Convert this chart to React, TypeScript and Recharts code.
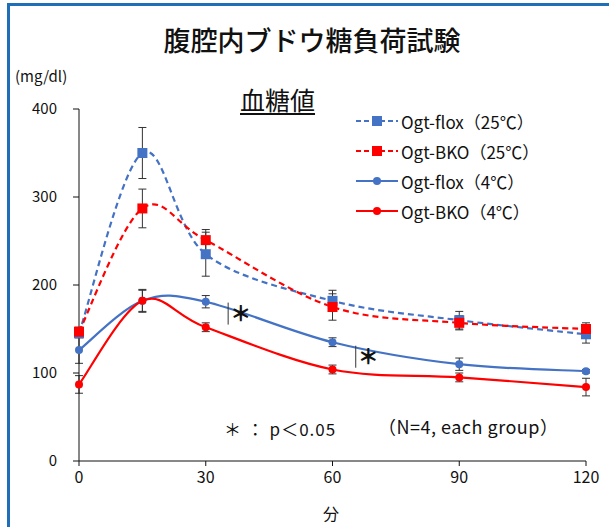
import React from 'react';
import { LineChart, Line, XAxis, YAxis, ErrorBar, ReferenceLine } from 'recharts';

// minutes after glucose injection
const MINUTES = [0, 15, 30, 60, 90, 120];

// blood glucose (mg/dl)
const FLOX_25 = [145, 350, 235, 182, 160, 144];
const BKO_25 = [147, 287, 251, 175, 157, 150];
const FLOX_4 = [126, 182, 181, 135, 110, 102];
const BKO_4 = [87, 182, 152, 104, 95, 84];

// error bars (±)
const FLOX_25_ERR = [5, 29, 25, 12, 10, 10];
const BKO_25_ERR = [5, 22, 12, 15, 8, 7];
const FLOX_4_ERR = [15, 13, 7, 5, 7, 2];
const BKO_4_ERR = [10, 12, 5, 5, 5, 10];

const X_TICKS = [0, 30, 60, 90, 120];
const Y_TICKS = [0, 100, 200, 300, 400];

const BLUE = '#4472C4';
const RED = '#FF0000';
const FONT = '"Noto Sans CJK JP", "Noto Sans", sans-serif';

const SERIES = [
  { key: 'flox25', err: 'flox25Err', name: 'Ogt-flox（25℃）', color: BLUE, dashed: true, square: true },
  { key: 'bko25', err: 'bko25Err', name: 'Ogt-BKO（25℃）', color: RED, dashed: true, square: true },
  { key: 'flox4', err: 'flox4Err', name: 'Ogt-flox（4℃）', color: BLUE, dashed: false, square: false },
  { key: 'bko4', err: 'bko4Err', name: 'Ogt-BKO（4℃）', color: RED, dashed: false, square: false },
];

const data = MINUTES.map((m, i) => ({
  min: m,
  flox25: FLOX_25[i],
  bko25: BKO_25[i],
  flox4: FLOX_4[i],
  bko4: BKO_4[i],
  flox25Err: FLOX_25_ERR[i],
  bko25Err: BKO_25_ERR[i],
  flox4Err: FLOX_4_ERR[i],
  bko4Err: BKO_4_ERR[i],
}));

// Excel-like smoothed line (Catmull-Rom through the points)
const smoothCurve: any = (ctx: any) => {
  let pts: number[][] = [];
  return {
    areaStart() {},
    areaEnd() {},
    lineStart() { pts = []; },
    point(x: number, y: number) { pts.push([+x, +y]); },
    lineEnd() {
      if (!pts.length) return;
      ctx.moveTo(pts[0][0], pts[0][1]);
      for (let i = 0; i < pts.length - 1; i++) {
        const p0 = pts[Math.max(0, i - 1)];
        const p1 = pts[i];
        const p2 = pts[i + 1];
        const p3 = pts[Math.min(pts.length - 1, i + 2)];
        ctx.bezierCurveTo(
          p1[0] + (p2[0] - p0[0]) / 6, p1[1] + (p2[1] - p0[1]) / 6,
          p2[0] - (p3[0] - p1[0]) / 6, p2[1] - (p3[1] - p1[1]) / 6,
          p2[0], p2[1],
        );
      }
    },
  };
};

function makeDot(color: string, square: boolean) {
  return (p: any) =>
    square
      ? <rect key={p.index} x={p.cx - 5} y={p.cy - 5} width={10} height={10} fill={color} />
      : <circle key={p.index} cx={p.cx} cy={p.cy} r={4} fill={color} />;
}

function LegendIcon({ color, dashed, square }: { color: string; dashed: boolean; square: boolean }) {
  return (
    <svg width={42} height={14} style={{ display: 'block' }}>
      <line x1={0} y1={7} x2={42} y2={7} stroke={color} strokeWidth={2} strokeDasharray={dashed ? '5 3' : undefined} />
      {square ? <rect x={16} y={2} width={10} height={10} fill={color} /> : <circle cx={21} cy={7} r={4} fill={color} />}
    </svg>
  );
}

const abs = (left: number, top: number, extra: React.CSSProperties = {}): React.CSSProperties => ({
  position: 'absolute', left, top, fontFamily: FONT, color: '#111', whiteSpace: 'nowrap', lineHeight: 1, ...extra,
});

const starLabel = { value: '＊', position: 'right' as const, offset: 2, fontSize: 21, fontWeight: 900, fill: '#111', fontFamily: FONT };

export default function App() {
  return (
    <div style={{ position: 'absolute', left: 0, top: 0, width: 609, height: 527, background: '#fff', overflow: 'hidden' }}>
      {/* frame */}
      <div style={{ position: 'absolute', left: 7, top: 3, right: 0, height: 3, background: '#1F6FB8' }} />
      <div style={{ position: 'absolute', left: 7, top: 3, bottom: 0, width: 3, background: '#1F6FB8' }} />

      <LineChart width={609} height={527} data={data} margin={{ top: 109, right: 23, bottom: 0, left: 0 }}>
        <XAxis
          dataKey="min"
          type="number"
          domain={[0, 120]}
          ticks={X_TICKS}
          height={66}
          tickSize={5}
          tickMargin={6}
          stroke="#111"
          tick={{ fill: '#111', fontSize: 16, fontFamily: FONT }}
        />
        <YAxis
          type="number"
          domain={[0, 400]}
          ticks={Y_TICKS}
          width={79}
          tickSize={6}
          tickMargin={16}
          stroke="#111"
          tick={{ fill: '#111', fontSize: 15, fontFamily: FONT }}
        />
        {SERIES.map(s => (
          <Line
            key={s.key}
            dataKey={s.key}
            name={s.name}
            type={smoothCurve}
            stroke={s.color}
            strokeWidth={2.2}
            strokeDasharray={s.dashed ? '6 4' : undefined}
            dot={makeDot(s.color, s.square)}
            activeDot={false}
            isAnimationActive={false}
          >
            <ErrorBar dataKey={s.err} width={4} stroke="#333" strokeWidth={1} direction="y" isAnimationActive={false} />
          </Line>
        ))}
        <ReferenceLine segment={[{ x: 35.3, y: 155 }, { x: 35.3, y: 180 }]} stroke="#333" label={starLabel} />
        <ReferenceLine segment={[{ x: 65.5, y: 106 }, { x: 65.5, y: 131 }]} stroke="#333" label={starLabel} />
      </LineChart>

      <div style={abs(0, 26, { width: 624, textAlign: 'center', fontSize: 27, fontWeight: 500 })}>腹腔内ブドウ糖負荷試験</div>
      <div style={abs(15, 68, { fontSize: 15 })}>(mg/dl)</div>
      <div style={abs(240, 87, { fontSize: 25, textDecoration: 'underline', textUnderlineOffset: 3 })}>血糖値</div>

      <div style={abs(356, 106)}>
        {SERIES.map(s => (
          <div key={s.key} style={{ display: 'flex', alignItems: 'center', height: 30 }}>
            <LegendIcon color={s.color} dashed={s.dashed} square={s.square} />
            <span style={{ fontSize: 17, marginLeft: 3 }}>{s.name}</span>
          </div>
        ))}
      </div>

      <div style={abs(224, 420, { fontSize: 17, letterSpacing: 1 })}>＊ ： p＜0.05</div>
      <div style={abs(378, 417, { fontSize: 18, letterSpacing: 0.5 })}>（N=4, each group）</div>
      <div style={abs(323, 505, { fontSize: 16 })}>分</div>
    </div>
  );
}
